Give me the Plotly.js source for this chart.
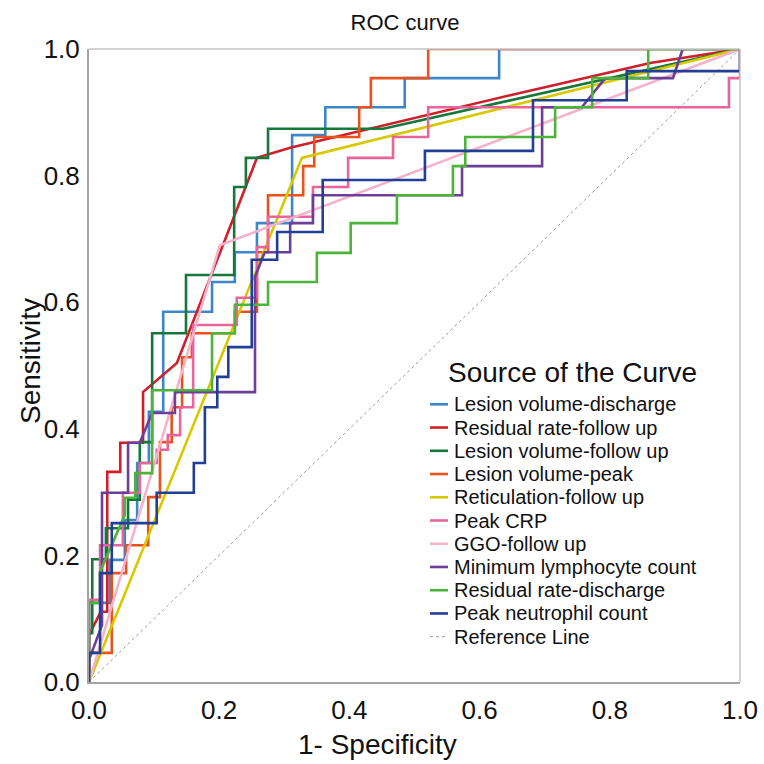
<!DOCTYPE html>
<html><head><meta charset="utf-8">
<script src="https://cdn.plot.ly/plotly-3.0.1.min.js"></script>
<style>html,body{margin:0;padding:0;background:#fff}#chart{width:764px;height:764px}</style>
</head><body><div id="chart"></div>
<script>
// ---------- DATA (1 - specificity, sensitivity) ----------
const seriesNames = ["Lesion volume-discharge","Residual rate-follow up","Lesion volume-follow up","Lesion volume-peak","Reticulation-follow up","Peak CRP","GGO-follow up","Minimum lymphocyte count","Residual rate-discharge","Peak neutrophil count"];
const referenceName = "Reference Line";
const tickVals = [0,0.2,0.4,0.6,0.8,1.0];
const tickText = ["0.0","0.2","0.4","0.6","0.8","1.0"];

// step curves (drawn as vertical-then-horizontal steps)
const fprLesionDischarge = [0,0.032,0.055,0.074,0.092,0.114,0.189,0.224,0.258,0.312,0.363,0.485,0.630,1];
const tprLesionDischarge = [0,0.125,0.193,0.256,0.346,0.427,0.585,0.632,0.679,0.725,0.864,0.908,0.954,1];

const fprResidualFollow = [0,0,0.018,0.028,0.028,0.048,0.048,0.083,0.083,0.135,0.258,0.275,0.309,0.647,0.862,1];
const tprResidualFollow = [0,0.074,0.111,0.111,0.332,0.332,0.378,0.378,0.458,0.504,0.828,0.833,0.844,0.927,0.978,1];

const fprLesionFollow = [0,0,0.005,0.005,0.026,0.026,0.060,0.060,0.078,0.078,0.097,0.097,0.149,0.149,0.223,0.223,0.241,0.241,0.275,0.275,0.452,1];
const tprLesionFollow = [0,0.077,0.077,0.194,0.194,0.243,0.243,0.288,0.288,0.379,0.379,0.551,0.551,0.643,0.643,0.782,0.782,0.828,0.828,0.874,0.874,1];

const fprLesionPeak = [0,0.035,0.057,0.091,0.109,0.127,0.143,0.158,0.224,0.258,0.275,0.329,0.346,0.415,0.433,0.521,1];
const tprLesionPeak = [0,0.046,0.172,0.216,0.292,0.379,0.434,0.513,0.551,0.585,0.679,0.769,0.815,0.861,0.908,0.954,1];

const fprReticulation = [0,0.327,1];
const tprReticulation = [0,0.828,1];

const fprPeakCRP = [0,0.017,0.052,0.078,0.104,0.121,0.140,0.160,0.227,0.258,0.275,0.344,0.398,0.467,0.521,0.983,1,1];
const tprPeakCRP = [0,0.130,0.216,0.299,0.346,0.367,0.390,0.434,0.564,0.607,0.687,0.735,0.782,0.828,0.861,0.908,0.954,1];

const fprGGO = [0,0.201,1];
const tprGGO = [0,0.690,1];

const fprLymphocyte = [0,0,0.020,0.020,0.060,0.060,0.078,0.097,0.132,0.132,0.255,0.255,0.270,0.309,0.309,0.344,0.344,0.573,0.573,0.696,0.696,0.757,0.793,0.897,0.912,1];
const tprLymphocyte = [0,0.035,0.090,0.299,0.299,0.378,0.378,0.425,0.425,0.458,0.458,0.640,0.679,0.679,0.725,0.725,0.769,0.769,0.815,0.815,0.908,0.908,0.954,0.954,1,1];

const fprResidualDischarge = [0,0,0.017,0.017,0.055,0.055,0.071,0.071,0.097,0.097,0.189,0.189,0.224,0.224,0.275,0.275,0.350,0.350,0.402,0.402,0.473,0.473,0.559,0.559,0.578,0.578,0.716,0.716,0.773,0.773,0.859,0.859,1];
const tprResidualDischarge = [0,0.125,0.125,0.174,0.264,0.291,0.291,0.330,0.330,0.461,0.461,0.551,0.551,0.596,0.596,0.632,0.632,0.678,0.678,0.725,0.725,0.769,0.769,0.815,0.815,0.861,0.861,0.908,0.908,0.954,0.954,1,1];

const fprNeutrophil = [0,0.017,0.035,0.104,0.161,0.178,0.197,0.214,0.250,0.289,0.359,0.516,0.682,0.826,1,1];
const tprNeutrophil = [0,0.046,0.172,0.251,0.299,0.346,0.434,0.482,0.529,0.667,0.711,0.793,0.839,0.919,0.965,1];

const fprReference = [0,1];
const tprReference = [0,1];

// ---------- STYLE ----------
const seriesColors = ["#3d86c8","#cf1f2a","#17773a","#e8521d","#d8c800","#e8659b","#f5b2cc","#6b3f98","#4cb43a","#223f96"];
const seriesShapes = ["vh","linear","linear","vh","linear","vh","linear","linear","linear","vh"];
const seriesX = [fprLesionDischarge,fprResidualFollow,fprLesionFollow,fprLesionPeak,fprReticulation,fprPeakCRP,fprGGO,fprLymphocyte,fprResidualDischarge,fprNeutrophil];
const seriesY = [tprLesionDischarge,tprResidualFollow,tprLesionFollow,tprLesionPeak,tprReticulation,tprPeakCRP,tprGGO,tprLymphocyte,tprResidualDischarge,tprNeutrophil];

const FONT = "'Liberation Sans', Arial, Helvetica, sans-serif";
const W = 764, H = 764, ML = 89, MR = 24, MT = 49, MB = 82;
const PW = W - ML - MR, PH = H - MT - MB;
const px2x = p => (p - ML) / PW;
const py2y = p => (H - MB - p) / PH;

const traces = [{
  x: fprReference, y: tprReference, mode: "lines", name: referenceName,
  line: {color: "#9a9a9a", width: 1, dash: "dot"}, hoverinfo: "skip"
}];
seriesNames.forEach((n, i) => {
  traces.push({
    x: seriesX[i], y: seriesY[i], mode: "lines", name: n,
    line: {color: seriesColors[i], width: 2.6, shape: seriesShapes[i]}
  });
});

// manual legend
const shapes = [
  {type:"line", xref:"paper", yref:"paper", x0:0, x1:1, y0:1, y1:1, line:{color:"#c4c4c4", width:1.5}},
  {type:"line", xref:"paper", yref:"paper", x0:1, x1:1, y0:0, y1:1, line:{color:"#c4c4c4", width:1.5}}
];
const annotations = [];
const legendRow0 = 404.3, legendStep = 23.24;
const legendNames = seriesNames.concat([referenceName]);
const legendColors = seriesColors.concat(["#9a9a9a"]);
legendNames.forEach((n, i) => {
  const yy = py2y(legendRow0 + i * legendStep);
  const isRef = i === legendNames.length - 1;
  shapes.push({type:"line", xref:"paper", yref:"paper", x0:px2x(430), x1:px2x(448), y0:yy, y1:yy,
    line:{color: legendColors[i], width: isRef ? 1 : 2.6, dash: isRef ? "dot" : "solid"}});
  annotations.push({xref:"paper", yref:"paper", x:px2x(452), y:yy, xanchor:"left", yanchor:"middle",
    text:n, showarrow:false, font:{family:FONT, size:20, color:"#111"}});
});
annotations.push({xref:"paper", yref:"paper", x:px2x(446), y:py2y(372), xanchor:"left", yanchor:"middle",
  text:"Source of the Curve", showarrow:false, font:{family:FONT, size:28, color:"#111"}});
annotations.push({xref:"paper", yref:"paper", x:px2x(377), y:py2y(744), xanchor:"center", yanchor:"middle",
  text:"1- Specificity", showarrow:false, font:{family:FONT, size:28, color:"#111"}});
annotations.push({xref:"paper", yref:"paper", x:px2x(30), y:py2y(361), xanchor:"center", yanchor:"middle",
  text:"Sensitivity", textangle:-90, showarrow:false, font:{family:FONT, size:28, color:"#111"}});

const axisCommon = {
  range:[0,1], tickvals:tickVals, ticktext:tickText, showgrid:false, zeroline:false,
  showline:true, linecolor:"#a3a3a3", linewidth:2, ticks:"", 
  tickfont:{family:FONT, size:26, color:"#111"}, fixedrange:true
};

const layout = {
  width:W, height:H, margin:{l:ML, r:MR, t:MT, b:MB, pad:0},
  paper_bgcolor:"#fff", plot_bgcolor:"#fff", showlegend:false,
  title:{text:"ROC curve", x:px2x(405)*PW/W + ML/W, xanchor:"center", y:1-22/H, yanchor:"middle",
    font:{family:FONT, size:22, color:"#111"}},
  xaxis:Object.assign({}, axisCommon, {ticklabelstandoff:4}),
  yaxis:Object.assign({}, axisCommon, {ticklabelstandoff:2}),
  shapes:shapes, annotations:annotations
};

Plotly.newPlot("chart", traces, layout, {displayModeBar:false, staticPlot:true});
</script></body></html>
